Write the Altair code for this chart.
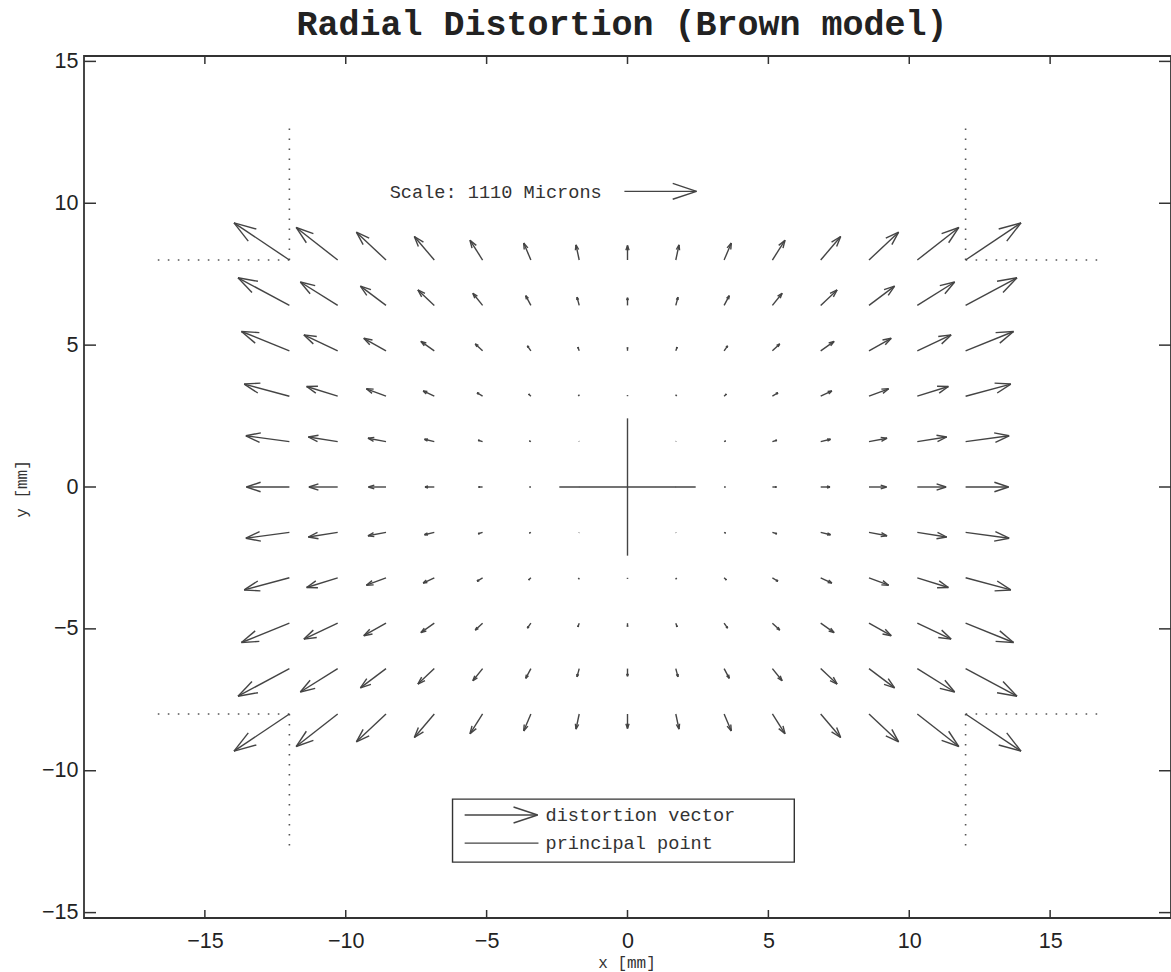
import math
import altair as alt
import pandas as pd

# ---------------- text ----------------
TITLE = "Radial Distortion (Brown model)"
X_LABEL = "x [mm]"
Y_LABEL = "y [mm]"
SCALE_TEXT = "Scale: 1110 Microns"
LEGEND_LABELS = ["distortion vector", "principal point"]

# ---------------- axes ----------------
X_TICKS = [-15, -10, -5, 0, 5, 10, 15]
Y_TICKS = [-15, -10, -5, 0, 5, 10, 15]
X_DOMAIN = [-19.29, 19.29]
Y_DOMAIN = [-15.19, 15.19]

# ---------------- grid of measurement points (mm) ----------------
GRID_X = [-12.0, -10.286, -8.571, -6.857, -5.143, -3.429, -1.714, 0.0,
          1.714, 3.429, 5.143, 6.857, 8.571, 10.286, 12.0]
GRID_Y = [8.0, 6.4, 4.8, 3.2, 1.6, 0.0, -1.6, -3.2, -4.8, -6.4, -8.0]

# arrow lengths (plot mm), by |x| column and |y| row
ABS_X = [0.0, 1.714, 3.429, 5.143, 6.857, 8.571, 10.286, 12.0]
ABS_Y = [0.0, 1.6, 3.2, 4.8, 6.4, 8.0]
ARROW_LEN = [
    [0.000, 0.006, 0.044, 0.144, 0.331, 0.622, 1.022, 1.525],
    [0.004, 0.014, 0.058, 0.165, 0.357, 0.652, 1.055, 1.559],
    [0.035, 0.052, 0.110, 0.231, 0.438, 0.744, 1.155, 1.661],
    [0.117, 0.140, 0.214, 0.356, 0.582, 0.904, 1.324, 1.832],
    [0.271, 0.300, 0.390, 0.551, 0.797, 1.134, 1.562, 2.067],
    [0.513, 0.546, 0.649, 0.828, 1.090, 1.438, 1.868, 2.363],
]

# ---------------- annotations (mm) ----------------
CROSS_HALF = 2.42
CORNER_X = [-12.0, 12.0]
CORNER_Y = [-8.0, 8.0]
CORNER_MARK_LEN = 4.8
SCALE_ARROW = (-0.11, 10.42, 2.56)       # x, y, length
SCALE_TEXT_POS = (-8.44, 10.40)
LEGEND_BOX = (-6.21, 5.92, -11.0, -13.22)  # x, x2, y, y2
LEGEND_ARROW = (-5.78, -11.56, 2.59)
LEGEND_LINE = (-5.78, -12.55, 2.62)
LEGEND_TEXT_X = -2.91

W, H = 1087, 862
INK = "#444444"
MONO = "Liberation Mono"
SANS = "Liberation Sans"


def arrow(x, y, dx, dy, alpha=0.33, beta=0.33):
    tx, ty = x + dx, y + dy
    return [
        (x, y, tx, ty),
        (tx, ty, tx - alpha * (dx + beta * dy), ty - alpha * (dy - beta * dx)),
        (tx, ty, tx - alpha * (dx - beta * dy), ty - alpha * (dy + beta * dx)),
    ]


def nearest(vals, v):
    return min(range(len(vals)), key=lambda k: abs(vals[k] - v))


field = []
for gy in GRID_Y:
    for gx in GRID_X:
        r = math.hypot(gx, gy)
        if r == 0:
            continue
        L = ARROW_LEN[nearest(ABS_Y, abs(gy))][nearest(ABS_X, abs(gx))]
        field += arrow(gx, gy, L * gx / r, L * gy / r)
# principal point cross
field.append((-CROSS_HALF, 0.0, CROSS_HALF, 0.0))
field.append((0.0, -CROSS_HALF, 0.0, CROSS_HALF))
# scale arrow
sx, sy, sl = SCALE_ARROW
field += arrow(sx, sy, sl, 0.0)
field_df = pd.DataFrame(field, columns=["x", "y", "x2", "y2"])

dots = []
for cx in CORNER_X:
    for cy in CORNER_Y:
        dots.append((cx, cy, cx + math.copysign(CORNER_MARK_LEN, cx), cy))
        dots.append((cx, cy, cx, cy + math.copysign(CORNER_MARK_LEN, cy)))
dots_df = pd.DataFrame(dots, columns=["x", "y", "x2", "y2"])

leg = []
ax, ay, al = LEGEND_ARROW
leg += arrow(ax, ay, al, 0.0)
lx, ly, ll = LEGEND_LINE
leg.append((lx, ly, lx + ll, ly))
leg_df = pd.DataFrame(leg, columns=["x", "y", "x2", "y2"])

box_df = pd.DataFrame([LEGEND_BOX], columns=["x", "x2", "y", "y2"])
leg_text_df = pd.DataFrame({"x": [LEGEND_TEXT_X, LEGEND_TEXT_X],
                            "y": [ay, ly], "t": LEGEND_LABELS})
scale_text_df = pd.DataFrame({"x": [SCALE_TEXT_POS[0]], "y": [SCALE_TEXT_POS[1]],
                              "t": [SCALE_TEXT]})

xs = alt.Scale(domain=X_DOMAIN, nice=False, zero=False)
ys = alt.Scale(domain=Y_DOMAIN, nice=False, zero=False)

x_axis = alt.Axis(values=X_TICKS, title=None, ticks=False, tickSize=0, domain=False,
                  grid=False, labelFont=SANS, labelFontSize=21.5, labelColor="#222222",
                  labelPadding=12, labelFlush=False)
y_axis = alt.Axis(values=Y_TICKS, title=None, ticks=False, tickSize=0, domain=False,
                  grid=False, labelFont=SANS, labelFontSize=21.5, labelColor="#222222",
                  labelPadding=6, labelFlush=False)


def X(f):
    return alt.X(f, scale=xs, axis=x_axis)


def Y(f):
    return alt.Y(f, scale=ys, axis=y_axis)


dotted = alt.Chart(dots_df).mark_rule(color="#555555", strokeWidth=1.6,
                                      strokeDash=[1.6, 8.4]).encode(
    x=X("x:Q"), y=Y("y:Q"), x2="x2:Q", y2="y2:Q")

vectors = alt.Chart(field_df).mark_rule(color=INK, strokeWidth=1.4).encode(
    x=X("x:Q"), y=Y("y:Q"), x2="x2:Q", y2="y2:Q")

box = alt.Chart(box_df).mark_rect(fill="white", stroke="#333333", strokeWidth=1.4).encode(
    x=X("x:Q"), x2="x2:Q", y=Y("y:Q"), y2="y2:Q")

leg_lines = alt.Chart(leg_df).mark_rule(color=INK, strokeWidth=1.4).encode(
    x=X("x:Q"), y=Y("y:Q"), x2="x2:Q", y2="y2:Q")

leg_text = alt.Chart(leg_text_df).mark_text(font=MONO, fontSize=18.6, align="left",
                                            baseline="middle", color="#333333").encode(
    x=X("x:Q"), y=Y("y:Q"), text="t:N")

scale_text = alt.Chart(scale_text_df).mark_text(font=MONO, fontSize=18.6, align="left",
                                                baseline="middle", color="#333333").encode(
    x=X("x:Q"), y=Y("y:Q"), text="t:N")

tick_df = pd.DataFrame({"v": Y_TICKS})
xtick_df = pd.DataFrame({"v": X_TICKS})
tick_style = dict(color="#333333", strokeWidth=1.5)
ticks_left = alt.Chart(tick_df).mark_rule(**tick_style).encode(
    y=Y("v:Q"), x=alt.value(0), x2=alt.value(12))
ticks_right = alt.Chart(tick_df).mark_rule(**tick_style).encode(
    y=Y("v:Q"), x=alt.value(W - 12), x2=alt.value(W))
ticks_bottom = alt.Chart(xtick_df).mark_rule(**tick_style).encode(
    x=X("v:Q"), y=alt.value(H), y2=alt.value(H - 8))
ticks_top = alt.Chart(xtick_df).mark_rule(**tick_style).encode(
    x=X("v:Q"), y=alt.value(0), y2=alt.value(8))

title = alt.Chart(pd.DataFrame({"t": [TITLE]})).mark_text(
    font=MONO, fontSize=35, fontWeight="bold", align="center",
    baseline="alphabetic", color="#222222").encode(
    x=alt.value(538), y=alt.value(-21), text="t:N")
xlab = alt.Chart(pd.DataFrame({"t": [X_LABEL]})).mark_text(
    font=MONO, fontSize=16, align="center", baseline="middle", color="#333333").encode(
    x=alt.value(543), y=alt.value(907), text="t:N")
ylab = alt.Chart(pd.DataFrame({"t": [Y_LABEL]})).mark_text(
    font=MONO, fontSize=16, align="center", baseline="middle", angle=270,
    color="#333333").encode(
    x=alt.value(-62), y=alt.value(433), text="t:N")

chart = alt.layer(
    dotted, vectors, box, leg_lines, leg_text, scale_text,
    ticks_left, ticks_right, ticks_bottom, ticks_top, title, xlab, ylab
).properties(
    width=W, height=H,
    autosize=alt.AutoSizeParams(type="none"),
    padding={"left": 84, "top": 56, "right": 0, "bottom": 54},
    background="white",
).configure_view(stroke="#333333", strokeWidth=1.8)

chart.save("out.html", embed_options={"renderer": "svg", "actions": False})
